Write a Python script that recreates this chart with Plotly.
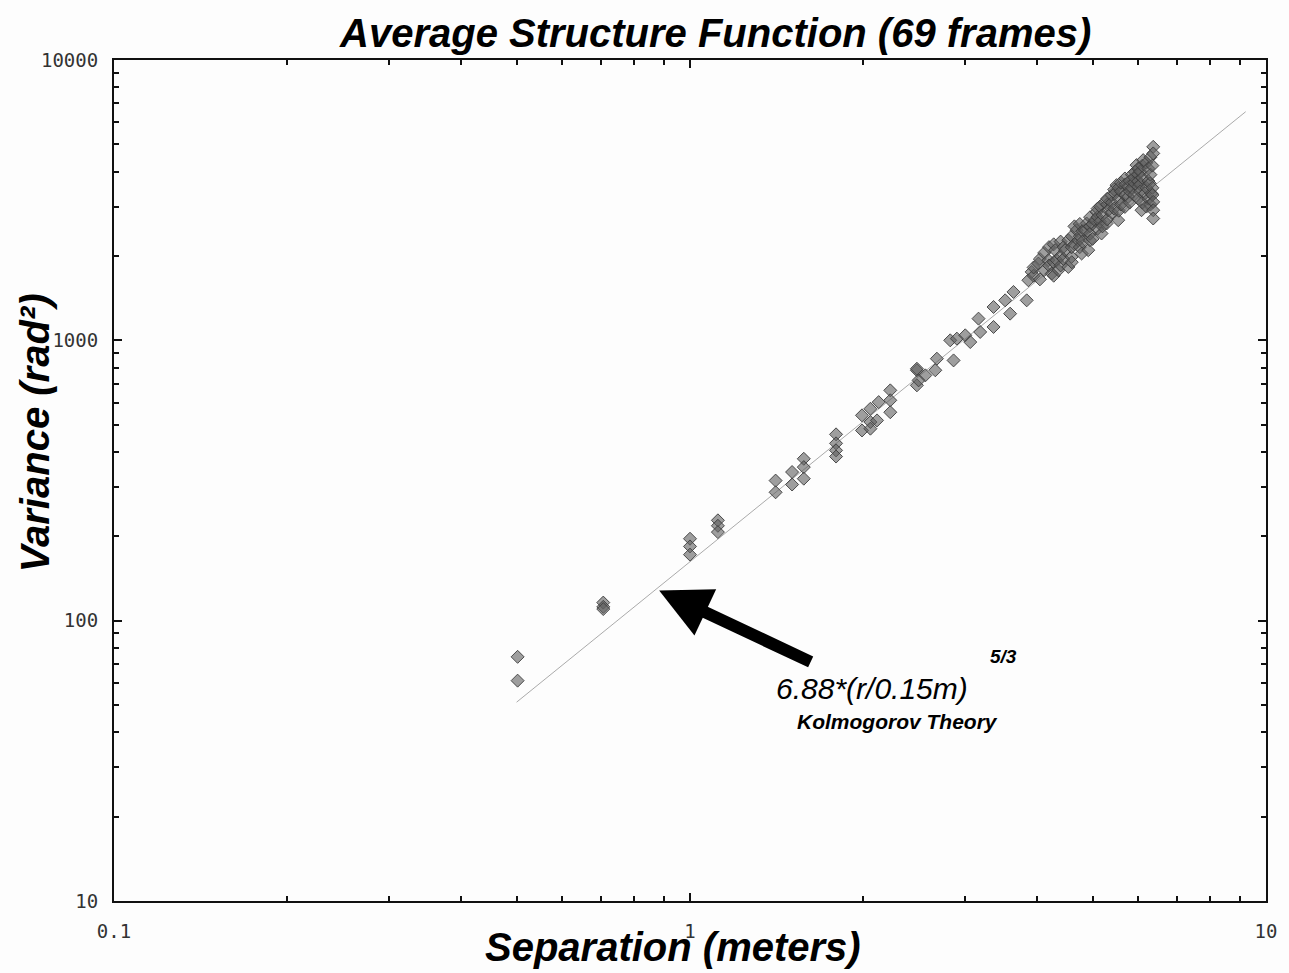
import plotly.graph_objects as go
import math

# ---------------- data ----------------
sep_m = [
    0.502, 0.502,
    0.707, 0.707, 0.707,
    1.0, 1.0, 1.0,
    1.118, 1.118, 1.118,
    1.408, 1.408, 1.504, 1.504,
    1.576, 1.576, 1.576,
    1.793, 1.793, 1.793, 1.793,
    1.989, 1.989, 2.057, 2.057, 2.057, 2.112, 2.126,
    2.227, 2.227, 2.227,
    2.477, 2.477, 2.477, 2.494, 2.562, 2.666, 2.683, 2.830, 2.868, 2.906,
    3.005, 3.066, 3.169, 3.190, 3.365, 3.365, 3.525, 3.596, 3.644, 3.842,
    3.868, 3.919,
    3.95, 3.95, 4.026, 4.05, 4.05, 4.12, 4.12, 4.191, 4.20, 4.20, 4.247,
    4.28, 4.28, 4.28, 4.304, 4.332, 4.361, 4.40, 4.40, 4.40, 4.45, 4.45,
    4.479, 4.538, 4.538, 4.598, 4.60, 4.60, 4.60, 4.65, 4.65, 4.690, 4.722,
    4.75, 4.75, 4.75, 4.785, 4.80, 4.80, 4.850, 4.882, 4.914, 4.947,
    4.95, 4.95, 4.95, 5.00, 5.00, 5.047, 5.079, 5.10, 5.10, 5.10, 5.15, 5.15,
    5.182, 5.20, 5.20, 5.253, 5.287, 5.30, 5.30, 5.30, 5.323, 5.40, 5.40, 5.40,
    5.45, 5.45, 5.467, 5.502, 5.539, 5.55, 5.55, 5.55, 5.60, 5.60, 5.60,
    5.689, 5.689, 5.70, 5.70, 5.765, 5.765, 5.80, 5.80, 5.80, 5.85, 5.85,
    5.90, 5.90, 5.90, 5.920, 5.959, 6.00, 6.00, 6.00, 6.00, 6.00, 6.05, 6.05,
    6.05, 6.080, 6.10, 6.10, 6.10, 6.121, 6.163, 6.20, 6.20, 6.20, 6.25, 6.25,
    6.25, 6.286, 6.30, 6.30, 6.30, 6.327, 6.35, 6.35, 6.35,
    6.371, 6.371, 6.371, 6.371, 6.371,
]
variance = [
    74.3, 61.1,
    116, 112, 110,
    196, 184, 172,
    228, 218, 207,
    316, 287, 339, 306,
    378, 353, 321,
    462, 429, 405, 385,
    540, 477, 570, 511, 484, 518, 602,
    663, 611, 554,
    782, 792, 691, 720, 750, 782, 860, 1000, 848, 1014,
    1042, 986, 1195, 1071, 1116, 1315, 1389, 1245, 1488, 1389,
    1638, 1754,
    1700, 1820, 1879, 1650, 1950, 1780, 2050, 1931, 1850, 2150, 1731,
    1900, 2200, 1700, 2097, 1931, 1778, 2000, 2250, 1850, 2150, 1950,
    2097, 2276, 1827, 1984, 2350, 2150, 1900, 2200, 2550, 2471, 2276,
    2350, 2600, 2150, 2040, 2450, 2250, 2471, 2611, 2097, 2276,
    2550, 2400, 2750, 2600, 2300, 2683, 2872, 2750, 2500, 2950, 2650, 3000,
    2405, 2800, 2550, 3118, 2611, 2700, 3050, 3200, 2912, 3100, 2850, 3300,
    2950, 3450, 3341, 3578, 2683, 3200, 3500, 2900, 3400, 3050, 3650,
    3779, 2992, 3300, 3600, 3528, 3250, 3700, 3400, 3100, 3900, 3500,
    3650, 3300, 3800, 3991, 4217, 3900, 3700, 3200, 4100, 3528, 3600, 3400,
    4000, 2912, 3800, 3100, 4200, 4394, 3341, 3500, 4300, 3000, 4100, 3700,
    3200, 3628, 4500, 3900, 3050, 3341, 4200, 3500, 3300,
    4901, 4643, 3118, 2912, 2720,
]

# Kolmogorov theory line end points: 6.88*(r/0.15m)^(5/3)
theory_x = [0.5, 9.22]
theory_y = [51.2, 6540]

x_tickvals = [0.1, 1, 10]
x_ticktext = ["0.1", "1", "10"]
x_minor = [0.2, 0.3, 0.4, 0.5, 0.6, 0.7, 0.8, 0.9, 2, 3, 4, 5, 6, 7, 8, 9]
y_tickvals = [10, 100, 1000, 10000]
y_ticktext = ["10", "100", "1000", "10000"]
y_minor = [20, 30, 40, 50, 60, 70, 80, 90, 200, 300, 400, 500, 600, 700, 800, 900,
           2000, 3000, 4000, 5000, 6000, 7000, 8000, 9000]

# arrow head location (data units)
arrow_x = 0.884
arrow_y = 128

# ---------------- figure ----------------
TITLE_FONT = "Liberation Sans, Arial, sans-serif"
TICK_FONT = dict(family="DejaVu Sans Mono, monospace", size=19, color="#333")

fig = go.Figure()
fig.add_trace(go.Scatter(
    x=theory_x, y=theory_y, mode="lines",
    line=dict(color="#aaaaaa", width=1), hoverinfo="skip", showlegend=False,
))
fig.add_trace(go.Scatter(
    x=sep_m, y=variance, mode="markers",
    marker=dict(symbol="diamond", size=10, color="rgba(95,95,95,0.6)",
                line=dict(color="rgba(60,60,60,0.9)", width=1)),
    showlegend=False,
))

common_axis = dict(
    type="log", showgrid=False, zeroline=False,
    showline=True, linecolor="#111", linewidth=2, mirror="ticks",
    ticks="inside", ticklen=8, tickwidth=1.5, tickcolor="#111",
    tickfont=TICK_FONT,
)
fig.update_xaxes(
    **common_axis, range=[-1, 1], tickmode="array",
    tickvals=x_tickvals, ticktext=x_ticktext, ticklabelstandoff=12,
    minor=dict(tickmode="array", tickvals=x_minor, ticks="inside", ticklen=5,
               tickwidth=1.5, tickcolor="#111", showgrid=False),
)
fig.update_yaxes(
    **common_axis, range=[1, 4], tickmode="array",
    tickvals=y_tickvals, ticktext=y_ticktext, ticklabelstandoff=10,
    minor=dict(tickmode="array", tickvals=y_minor, ticks="inside", ticklen=5,
               tickwidth=1.5, tickcolor="#111", showgrid=False),
)

W, H = 1289, 973
L, R, T, B = 114, 21, 60, 72
pw, ph = W - L - R, H - T - B


def px(xp):
    return (xp - L) / pw


def py(yp):
    return (H - B - yp) / ph


BIG = dict(family=TITLE_FONT, size=40, color="#000", weight="bold", style="italic")

annotations = [
    dict(text="Average Structure Function (69 frames)", x=px(716), y=py(33),
         xref="paper", yref="paper", showarrow=False, xanchor="center", yanchor="middle",
         font=BIG),
    dict(text="Separation (meters)", x=px(674), y=py(947),
         xref="paper", yref="paper", showarrow=False, xanchor="center", yanchor="middle",
         font=BIG),
    dict(text="Variance (rad²)", x=px(35), y=py(433), textangle=-90,
         xref="paper", yref="paper", showarrow=False, xanchor="center", yanchor="middle",
         font=BIG),
    dict(text="6.88*(r/0.15m)", x=px(873), y=py(688),
         xref="paper", yref="paper", showarrow=False, xanchor="center", yanchor="middle",
         font=dict(family=TITLE_FONT, size=30, color="#000", style="italic")),
    dict(text="5/3", x=px(1005), y=py(656),
         xref="paper", yref="paper", showarrow=False, xanchor="center", yanchor="middle",
         font=dict(family=TITLE_FONT, size=19, color="#000", weight="bold", style="italic")),
    dict(text="Kolmogorov Theory", x=px(899), y=py(721),
         xref="paper", yref="paper", showarrow=False, xanchor="center", yanchor="middle",
         font=dict(family=TITLE_FONT, size=21, color="#000", weight="bold", style="italic")),
    dict(text="", x=math.log10(arrow_x), y=math.log10(arrow_y), xref="x", yref="y",
         showarrow=True, ax=153, ay=72, arrowhead=2, arrowsize=0.85, arrowwidth=12,
         arrowcolor="#000", standoff=0),
]

fig.update_layout(
    width=W, height=H,
    margin=dict(l=L, r=R, t=T, b=B),
    paper_bgcolor="#fdfdfd", plot_bgcolor="#fdfdfd",
    annotations=annotations,
    showlegend=False,
)

fig.write_html("out.html")
